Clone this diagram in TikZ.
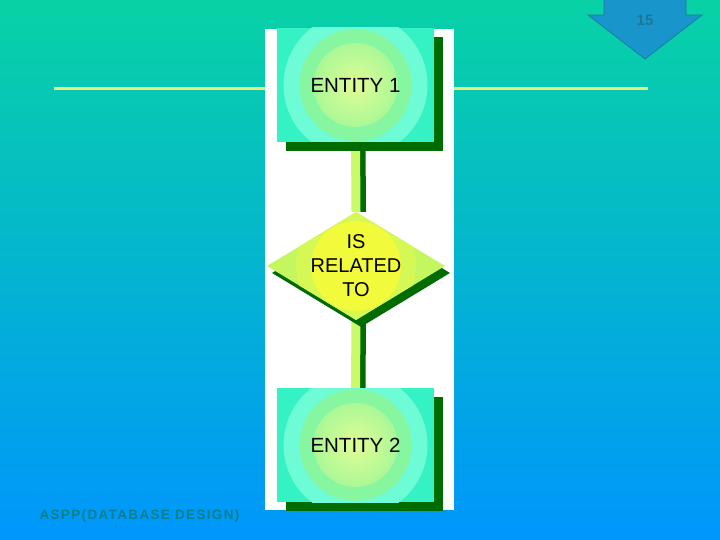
\documentclass[tikz,border=0pt]{standalone}
\usepackage{fontspec}
\setmainfont{Liberation Sans}
\usetikzlibrary{shapes.geometric, positioning, calc, shadows, backgrounds}
\definecolor{bgtop}{RGB}{8, 210, 165}
\definecolor{bgbottom}{RGB}{0, 150, 252}
\definecolor{entaqua}{RGB}{52, 242, 196}
\definecolor{entring}{RGB}{110, 252, 214}
\definecolor{entgreen}{RGB}{135, 246, 160}
\definecolor{entinner}{RGB}{170, 248, 150}
\definecolor{entcenter}{RGB}{225, 252, 150}
\definecolor{relouter}{RGB}{196, 246, 96}
\definecolor{relring}{RGB}{214, 248, 84}
\definecolor{relcenter}{RGB}{242, 250, 60}
\definecolor{darkshade}{RGB}{0, 108, 0}
\definecolor{barcolor}{RGB}{202, 250, 104}
\definecolor{linecolor}{RGB}{236, 238, 120}
\definecolor{numarrow}{RGB}{24, 150, 204}
\definecolor{numtext}{RGB}{28, 118, 150}
\definecolor{footcolor}{RGB}{0, 128, 140}

\tikzset{
  entity/.style={rectangle, minimum width=157pt, minimum height=114pt, inner sep=0pt,
    fill=entaqua, font=\fontsize{20.5}{24}\selectfont,
    drop shadow={shadow xshift=9pt, shadow yshift=-9pt, fill=darkshade, opacity=1},
    path picture={
      \fill[entring] (path picture bounding box.center) circle (72pt);
      \fill[entgreen] (path picture bounding box.center) circle (56pt);
      \shade[inner color=entcenter, outer color=entinner] (path picture bounding box.center) circle (42pt);
    }},
  relation/.style={diamond, minimum width=178pt, minimum height=108pt, inner sep=0pt,
    fill=relouter,
    drop shadow={shadow xshift=5pt, shadow yshift=-7pt, fill=darkshade, opacity=1},
    path picture={
      \fill[relring] (path picture bounding box.center) circle (60pt);
      \fill[relcenter] (path picture bounding box.center) circle (45pt);
    }},
  barshade/.style={line width=6pt, darkshade},
  bar/.style={line width=9pt, barcolor},
  rule/.style={line width=3pt, linecolor}
}

\begin{document}
\begin{tikzpicture}[x=1pt, y=-1pt]
    \useasboundingbox (0,0) rectangle (720,540);

    % Entities and relation
    \node[entity] (ent1) at (355.5,85) {ENTITY 1};
    \node[relation, label={[align=center, font=\fontsize{20}{24}\selectfont]center:IS\\RELATED\\TO}] (rel) at (356,266) {};
    \node[entity] (ent2) at (355.5,445) {ENTITY 2};

    \begin{pgfonlayer}{background}
        % Backdrop
        \fill[top color=bgtop, bottom color=bgbottom] (0,0) rectangle (720,540);
        \node[rectangle, fill=white, minimum width=189pt, minimum height=481pt, inner sep=0pt] (panel) at (359.5,269.5) {};

        % Rules either side
        \coordinate (ruleL) at (54,89);
        \coordinate (ruleR) at (648,89);
        \draw[rule] (ruleL) -- (ruleL -| panel.west);
        \draw[rule] (ruleR -| panel.east) -- (ruleR);

        % Connecting bars
        \draw[barshade] ($(ent1.south)+(7,0)$) -- ($(rel.north)+(7,0)$);
        \draw[bar] (ent1.south) -- (rel.north);
        \draw[barshade] ($(rel.south)+(7,0)$) -- ($(ent2.north)+(7,0)$);
        \draw[bar] (rel.south) -- (ent2.north);
    \end{pgfonlayer}

    % Page number arrow
    \filldraw[fill=numarrow, draw=numtext!80!numarrow, line width=0.8pt]
        (604,-2) -- (686,-2) -- (686,15) -- (702,15) -- (645,59) -- (588,15) -- (604,15) -- cycle;
    \node[font=\fontsize{15}{17}\selectfont\bfseries, text=numtext] (pagenum) at (645,20) {15};

    % Footer
    \node[font=\fontsize{13.5}{16}\selectfont\bfseries\addfontfeatures{LetterSpace=10}, text=footcolor, anchor=west] (footer) at (36,516) {ASPP(DATABASE DESIGN)};
\end{tikzpicture}
\end{document}
